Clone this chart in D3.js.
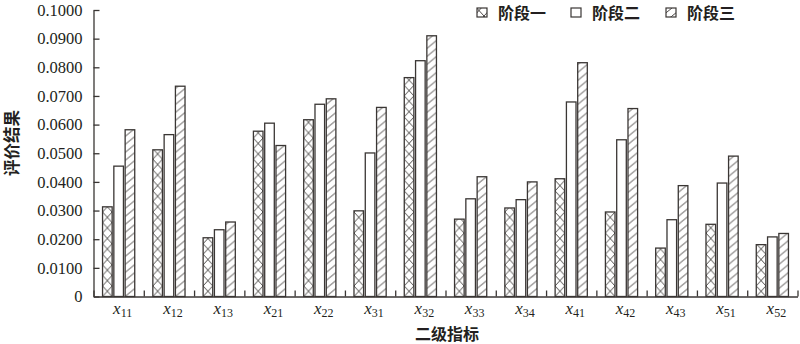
<!DOCTYPE html>
<html>
<head>
<meta charset="utf-8">
<script src="https://cdn.jsdelivr.net/npm/d3@7"></script>
<style>
  body { margin: 0; background: #fff; }
  svg { display: block; }
  .axis path, .axis line { stroke: #3a3634; stroke-width: 1.3; }
  .cjk { font-family: "Noto Sans CJK SC", sans-serif; fill: #231f20; }
</style>
</head>
<body>
<div id="chart"></div>
<script>
// categories (subscripts of x), three stages
var categories = ["11", "12", "13", "21", "22", "31", "32", "33", "34", "41", "42", "43", "51", "52"];
var seriesNames = ["阶段一", "阶段二", "阶段三"];
var stage1 = [0.0313, 0.0512, 0.0205, 0.0577, 0.0617, 0.0299, 0.0764, 0.0270, 0.0309, 0.0411, 0.0295, 0.0169, 0.0252, 0.0181];
var stage2 = [0.0455, 0.0565, 0.0233, 0.0605, 0.0671, 0.0501, 0.0823, 0.0341, 0.0338, 0.0679, 0.0547, 0.0268, 0.0396, 0.0208];
var stage3 = [0.0582, 0.0734, 0.0260, 0.0527, 0.0690, 0.0660, 0.0910, 0.0418, 0.0400, 0.0816, 0.0656, 0.0387, 0.0490, 0.0220];
var yTicks = [0, 0.01, 0.02, 0.03, 0.04, 0.05, 0.06, 0.07, 0.08, 0.09, 0.1];

var width = 800, height = 344;
var plot = { left: 93.5, right: 797.5, top: 10, bottom: 296.5 };
var ink = "#3a3634";

var svg = d3.select("#chart").append("svg")
  .attr("width", width)
  .attr("height", height);

var defs = svg.append("defs");

var x0 = d3.scaleBand()
  .domain(categories)
  .range([plot.left, plot.right])
  .paddingInner(0.36)
  .paddingOuter(0.18);

var x1 = d3.scaleBand()
  .domain([0, 1, 2])
  .range([0, x0.bandwidth()])
  .paddingInner(0.15);

var y = d3.scaleLinear()
  .domain([0, 0.1])
  .range([plot.bottom, plot.top]);

var data = [];
categories.forEach(function(c, i) {
  [stage1, stage2, stage3].forEach(function(s, k) {
    data.push({ cat: c, k: k, value: s[i], id: "p" + i + "_" + k });
  });
});

// hatch patterns anchored on each bar
function makePattern(id, k, px, py, w) {
  var p = defs.append("pattern")
    .attr("id", id)
    .attr("patternUnits", "userSpaceOnUse");
  if (k === 0) {
    var h = w * 1.1;
    p.attr("x", px).attr("y", py).attr("width", w).attr("height", h);
    p.append("path").attr("d", "M0,0L" + w + "," + h + "M" + w + ",0L0," + h)
      .attr("stroke", ink).attr("stroke-width", 0.9).attr("fill", "none");
  } else if (k === 2) {
    var h2 = 8;
    p.attr("x", px).attr("y", py).attr("width", w).attr("height", h2);
    p.append("path").attr("d", "M0," + h2 + "L" + w + ",0")
      .attr("stroke", ink).attr("stroke-width", 0.9).attr("fill", "none");
  }
}

data.forEach(function(d) {
  var bx = x0(d.cat) + x1(d.k);
  if (d.k !== 1) makePattern(d.id, d.k, bx, plot.bottom, x1.bandwidth());
});

svg.selectAll("rect.bar")
  .data(data)
  .enter().append("rect")
  .attr("class", "bar")
  .attr("x", function(d) { return x0(d.cat) + x1(d.k); })
  .attr("y", function(d) { return y(d.value); })
  .attr("width", x1.bandwidth())
  .attr("height", function(d) { return plot.bottom - y(d.value); })
  .attr("fill", function(d) { return d.k === 1 ? "#fff" : "url(#" + d.id + ")"; })
  .attr("stroke", ink)
  .attr("stroke-width", 1.3);

// y axis
var yAxis = d3.axisLeft(y)
  .tickValues(yTicks)
  .tickSizeInner(-6)
  .tickSizeOuter(0)
  .tickPadding(11)
  .tickFormat(function(d) { return d === 0 ? "0" : d3.format(".4f")(d); });

svg.append("g")
  .attr("class", "axis")
  .attr("transform", "translate(" + plot.left + ",0)")
  .call(yAxis)
  .attr("font-family", "Liberation Serif, serif")
  .attr("font-size", 16.5)
  .selectAll("text").attr("fill", "#231f20");

// x axis: ticks at group boundaries
var xb = d3.scaleLinear().domain([0, categories.length]).range([plot.left, plot.right]);
var xAxis = d3.axisBottom(xb)
  .tickValues(d3.range(0, categories.length + 1))
  .tickSizeInner(-6)
  .tickSizeOuter(0)
  .tickFormat("");

svg.append("g")
  .attr("class", "axis")
  .attr("transform", "translate(0," + plot.bottom + ")")
  .call(xAxis);

// category labels x_ij
var lab = svg.selectAll("text.xl")
  .data(categories)
  .enter().append("text")
  .attr("class", "xl")
  .attr("x", function(d) { return x0(d) + x0.bandwidth() / 2 + 4; })
  .attr("y", 314)
  .attr("text-anchor", "middle")
  .attr("font-family", "Liberation Serif, serif")
  .attr("fill", "#231f20");
lab.append("tspan").attr("font-style", "italic").attr("font-size", 17).text("x");
lab.append("tspan").attr("font-size", 12).attr("dy", 3).text(function(d) { return d; });

// axis titles
svg.append("text")
  .attr("class", "cjk")
  .attr("x", 447)
  .attr("y", 340)
  .attr("text-anchor", "middle")
  .attr("font-size", 16)
  .attr("font-weight", 600)
  .text("二级指标");

svg.append("text")
  .attr("class", "cjk")
  .attr("transform", "translate(11,143) rotate(-90)")
  .attr("text-anchor", "middle")
  .attr("dominant-baseline", "central")
  .attr("font-size", 16.5)
  .attr("font-weight", 600)
  .text("评价结果");

// legend
var legendX = [477, 571, 666];
var leg = svg.selectAll("g.leg")
  .data(seriesNames)
  .enter().append("g")
  .attr("class", "leg")
  .attr("transform", function(d, i) { return "translate(" + legendX[i] + ",8)"; });

seriesNames.forEach(function(n, i) {
  if (i !== 1) makePattern("leg" + i, i, legendX[i], 8, 10);
});

leg.append("rect")
  .attr("width", 10)
  .attr("height", 9)
  .attr("fill", function(d, i) { return i === 1 ? "#fff" : "url(#leg" + i + ")"; })
  .attr("stroke", ink)
  .attr("stroke-width", 1.2);

leg.append("text")
  .attr("class", "cjk")
  .attr("x", 21)
  .attr("y", 11)
  .attr("font-size", 16)
  .attr("font-weight", 600)
  .text(function(d) { return d; });
</script>
</body>
</html>
